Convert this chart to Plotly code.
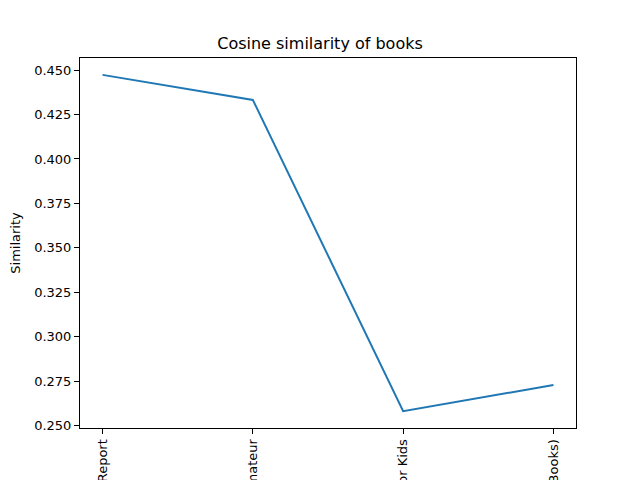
import plotly.graph_objects as go

books = ["Quarterly Report", "The Amateur", "Science for Kids", "Harry Potter (Books)"]
similarity = [0.4473, 0.4332, 0.2581, 0.2728]

fig = go.Figure()
fig.add_trace(go.Scatter(x=books, y=similarity, mode="lines",
                         line=dict(color="#1f77b4", width=2)))

axis_style = dict(showline=True, mirror=True, linecolor="black", linewidth=1,
                  ticks="outside", ticklen=5, tickcolor="black", showgrid=False,
                  zeroline=False, tickfont=dict(size=13, color="black"))

# page body has an 8px margin, so the figure is sized/offset to compensate
fig.update_layout(
    width=632, height=472,
    template="plotly_white",
    font=dict(family="DejaVu Sans", color="black"),
    title=dict(text="Cosine similarity of books", x=(320 - 8) / 632, xanchor="center",
               y=1 - 35 / 472, yanchor="middle", font=dict(size=16)),
    margin=dict(l=72, r=64, t=50, b=52),
    showlegend=False,
    plot_bgcolor="white", paper_bgcolor="white",
)
fig.update_xaxes(**axis_style, tickangle=-90, range=[-0.15, 3.15], automargin=False)
fig.update_yaxes(**axis_style, range=[0.2486, 0.4568], dtick=0.025, tickformat=".3f",
                 title=dict(text="Similarity", font=dict(size=13), standoff=10),
                 automargin=False)

fig.write_html("out.html")
